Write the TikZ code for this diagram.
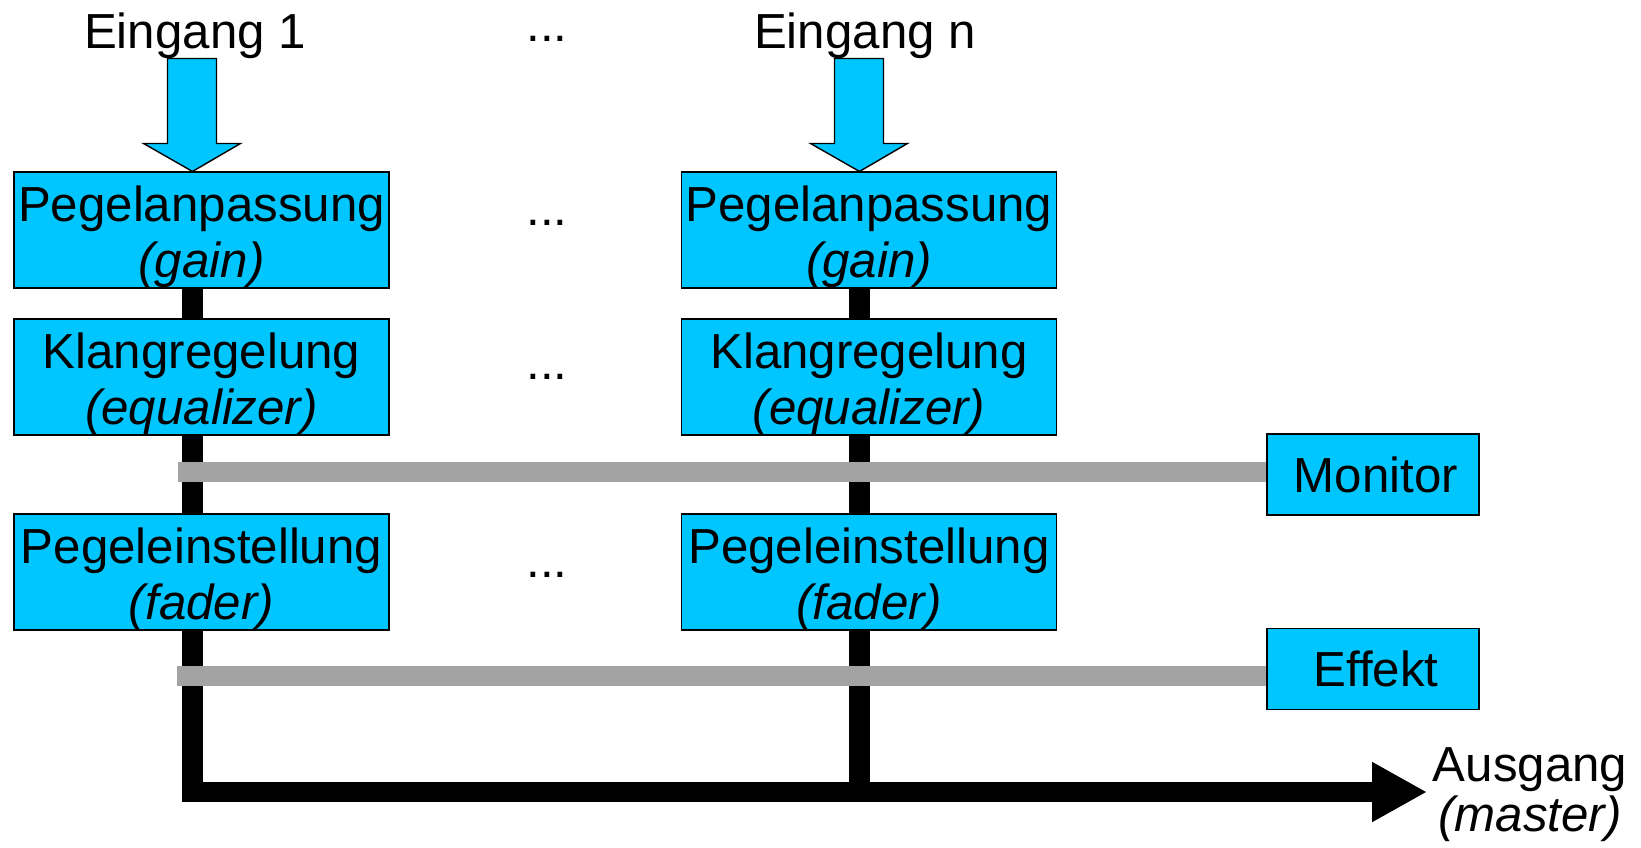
\documentclass[tikz,border=0pt]{standalone}
\usepackage{fontspec}
\setmainfont{Liberation Sans}
\usetikzlibrary{arrows.meta}
\definecolor{skyblue}{RGB}{0,198,255}
\definecolor{busgray}{RGB}{163,163,163}
\newcommand\toprow{\rule{0pt}{14pt}}
\tikzset{
  stage/.style={draw, fill=skyblue, minimum width=3.75cm, minimum height=1.14cm, inner sep=0pt, align=center},
  sendbox/.style={draw, fill=skyblue, minimum width=2.12cm, minimum height=0.81cm, inner sep=0pt},
  chain/.style={line width=0.2cm},
  tap/.style={line width=0.2cm, busgray},
  feed/.style={draw, fill=skyblue, line width=0.4pt, line join=miter}
}

\begin{document}
\begin{tikzpicture}[x=0.01cm, y=-0.01cm, font=\fontsize{14}{16}\selectfont]
\useasboundingbox (0,0) rectangle (1641,847);

\node[anchor=base] (in1) at (195,48) {Eingang 1};
\node[anchor=base] (inn) at (865,48) {Eingang n};

\node[anchor=base] (d0) at (547,41) {...};
\node[anchor=base] (d1) at (547,225) {...};
\node[anchor=base] (d2) at (547,379) {...};
\node[anchor=base] (d3) at (547,577) {...};

\node[stage] (g1) at (201.5,230) {\toprow Pegelanpassung\\\textit{(gain)}};
\node[stage] (k1) at (201.5,377) {\toprow Klangregelung\\\textit{(equalizer)}};
\node[stage] (f1) at (201.5,572) {\toprow Pegeleinstellung\\\textit{(fader)}};

\node[stage] (gn) at (869,230) {\toprow Pegelanpassung\\\textit{(gain)}};
\node[stage] (kn) at (869,377) {\toprow Klangregelung\\\textit{(equalizer)}};
\node[stage] (fn) at (869,572) {\toprow Pegeleinstellung\\\textit{(fader)}};

\node[sendbox] (mon) at (1373,474.5) {\hspace{0.06cm}Monitor};
\node[sendbox] (eff) at (1373,669) {\hspace{0.06cm}Effekt};

\node[align=center, inner ysep=0pt, inner xsep=0.05cm, font=\fontsize{14}{14.2}\selectfont] (out) at (1530,795) {Ausgang\\\textit{(master)}};

\coordinate (c1) at (192.5,0);
\coordinate (cn) at (859.5,0);
\coordinate (bus) at (192.5,792);
\coordinate (m0) at (178,472);
\coordinate (e0) at (177,676);

\draw[feed] (c1 |- g1.north) -- ++(-49,-28) -- ++(24,0) -- ++(0,-85) -- ++(49,0) -- ++(0,85) -- ++(24,0) -- cycle;
\draw[feed] (cn |- gn.north) -- ++(-49,-28) -- ++(24,0) -- ++(0,-85) -- ++(49,0) -- ++(0,85) -- ++(24,0) -- cycle;

\draw[chain] (c1 |- g1.south) -- (c1 |- k1.north);
\draw[chain] (c1 |- k1.south) -- (c1 |- f1.north);
\draw[chain] (cn |- gn.south) -- (cn |- kn.north);
\draw[chain] (cn |- kn.south) -- (cn |- fn.north);
\draw[chain] (cn |- fn.south) -- (cn |- bus);
\draw[chain, -{Triangle[length=0.55cm, width=0.56cm]}] (c1 |- f1.south) -- (bus) -- (bus -| out.west);

\draw[tap] (m0) -- (m0 -| mon.west);
\draw[tap] (e0) -- (e0 -| eff.west);
\end{tikzpicture}
\end{document}
